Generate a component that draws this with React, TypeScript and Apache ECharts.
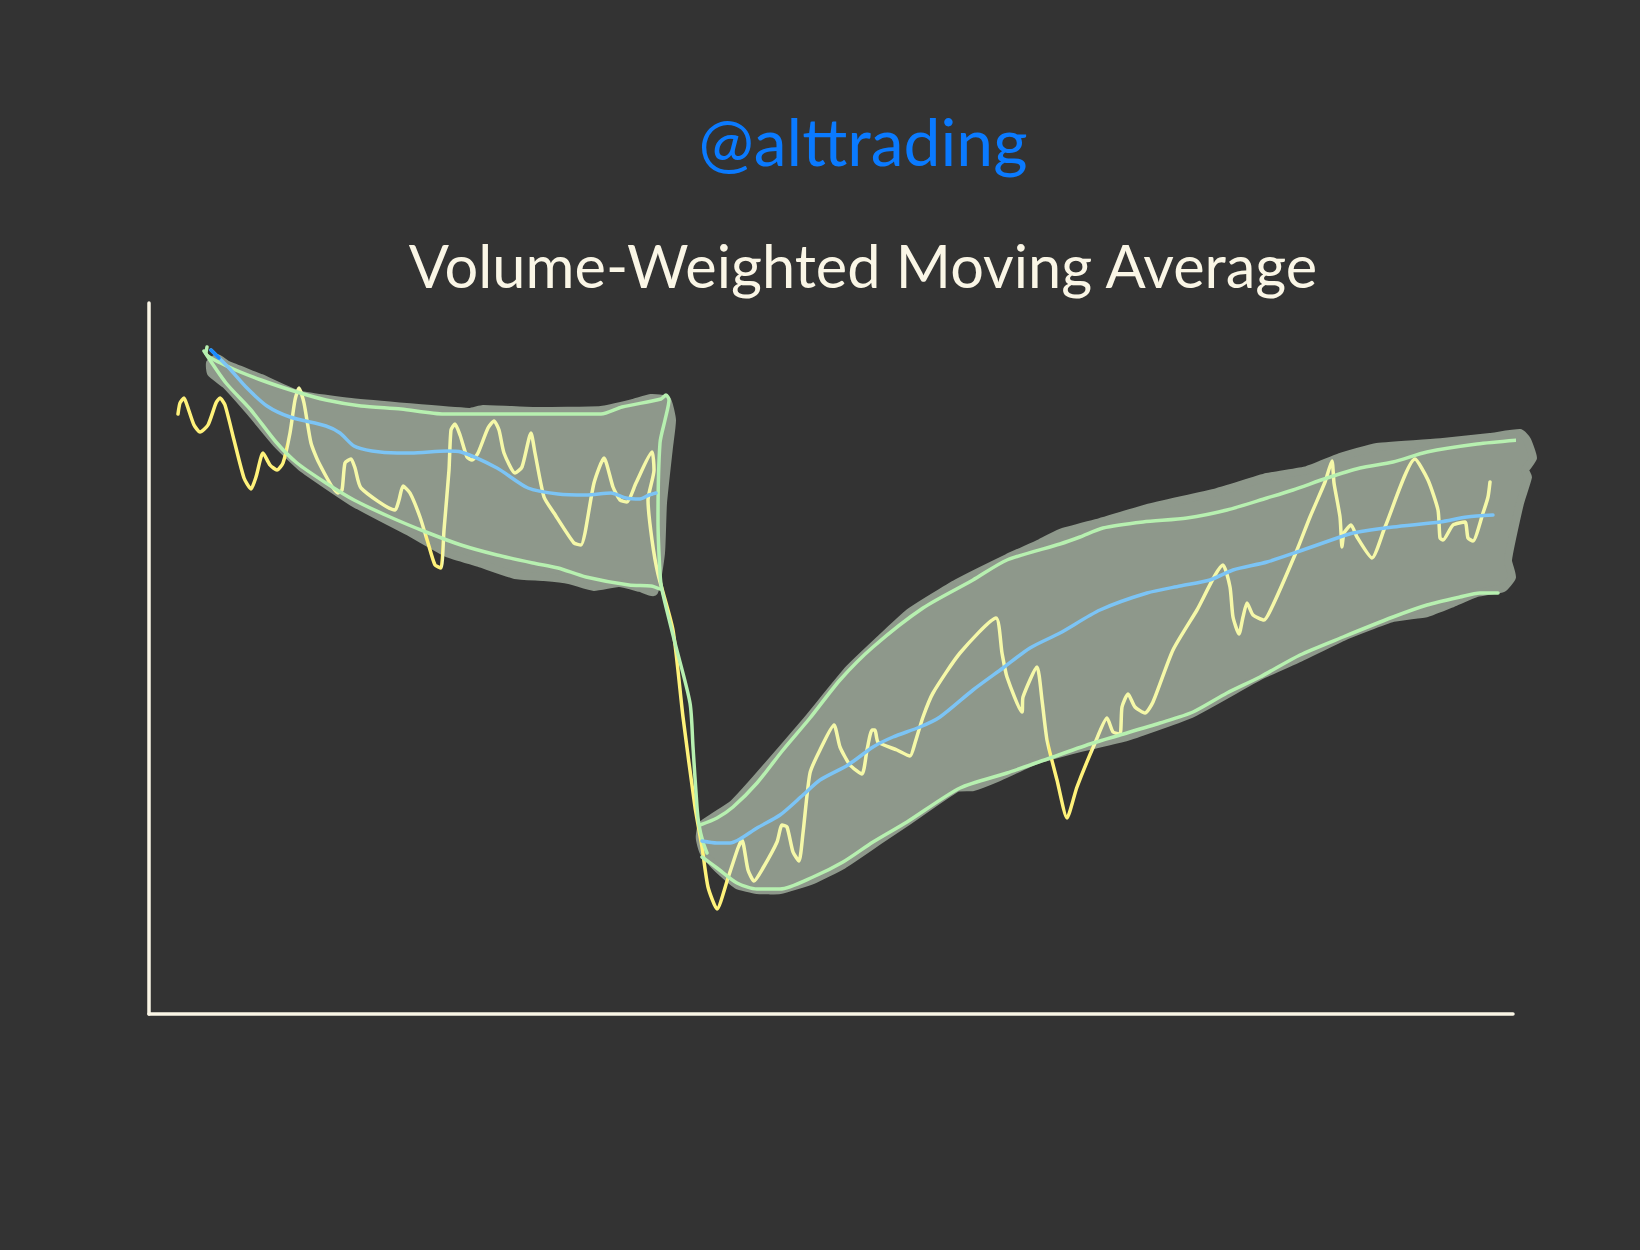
import React, { useEffect, useRef } from "react";
import * as echarts from "echarts";

const titleText = "@alttrading";
const subtitleText = "Volume-Weighted Moving Average";

const price: number[][] = [
  [29,600],[31,611],[35,616],[38,609],[45,589],[51,582],[59,589],[67,611],[71,616],[76,609],[85,574],[95,536],[102,525],[107,537],[114,561],[121,549],[128,544],[134,551],[141,581],[146,614],[150,626],[155,611],[162,571],[170,551],[189,521],[193,524],[196,551],[202,555],[206,546],[212,526],[246,504],[250,514],[254,528],[261,521],[271,497],[279,471],[286,449],[292,446],[295,484],[300,544],[302,584],[306,590],[311,579],[318,557],[323,554],[329,561],[339,586],[345,593],[350,584],[355,561],[366,541],[373,547],[382,581],[386,561],[395,517],[405,501],[425,471],[432,469],[436,481],[445,531],[455,556],[464,527],[471,514],[478,512],[487,531],[503,562],[505,544],[499,514],[503,474],[509,440],[524,384],[534,297],[546,207],[553,167],[559,127],[568,105],[579,136],[589,166],[593,174],[599,144],[605,133],[614,146],[628,172],[633,189],[638,187],[644,162],[650,153],[654,181],[661,241],[671,264],[685,289],[691,267],[701,249],[713,240],[718,264],[723,284],[726,284],[729,272],[748,264],[761,258],[766,271],[774,297],[784,321],[811,361],[847,396],[853,361],[858,337],[873,302],[874,317],[888,347],[893,314],[898,274],[908,234],[918,196],[928,227],[946,271],[958,296],[964,282],[971,280],[973,307],[979,320],[986,307],[996,301],[1004,312],[1024,364],[1048,404],[1074,449],[1081,427],[1084,397],[1090,380],[1094,397],[1098,411],[1104,399],[1115,394],[1124,409],[1148,464],[1161,497],[1176,532],[1183,553],[1185,531],[1191,497],[1193,467],[1195,481],[1202,489],[1208,477],[1223,456],[1236,487],[1266,555],[1279,534],[1289,504],[1291,476],[1294,474],[1304,489],[1316,492],[1319,476],[1324,473],[1334,501],[1339,517],[1341,532],
];

const vwmaStart: number[][] = [[62,664],[70,656]];
const vwmaBefore: number[][] = [
  [62,664],[80,646],[98,626],[118,608],[141,597],[177,588],[191,581],[205,568],[223,563],[248,561],[262,561],[298,563],[312,562],[348,546],[379,526],[409,520],[437,519],[462,521],[477,516],[491,515],[500,519],[507,521],
];
const vwmaAfter: number[][] = [
  [553,173],[568,171],[581,171],[591,175],[608,186],[631,199],[654,219],[671,234],[699,249],[724,267],[744,277],[771,287],[791,297],[824,324],[854,346],[881,366],[911,381],[951,404],[998,421],[1031,428],[1061,434],[1084,444],[1118,452],[1151,463],[1191,477],[1204,481],[1244,487],[1291,492],[1318,497],[1344,499],
];

const bandLowerBefore: number[][] = [
  [55,663],[77,631],[102,604],[127,572],[148,551],[177,531],[205,514],[241,497],[277,482],[312,469],[348,459],[384,451],[409,446],[437,437],[480,429],[502,428],[511,425],
];
const bandUpperBefore: number[][] = [
  [58,667],[57,661],[80,647],[112,634],[148,622],[177,614],[212,608],[252,605],[295,600],[348,600],[452,600],[473,607],[512,615],[517,619],[520,614],[516,594],[511,571],[509,494],[511,441],[513,424],[526,371],[541,311],[544,267],[548,207],[550,189],[554,172],[558,161],
];
const bandUpperAfter: number[][] = [
  [551,189],[568,196],[584,207],[608,231],[634,264],[661,296],[691,334],[724,367],[774,406],[824,434],[858,454],[911,470],[931,477],[954,486],[994,492],[1038,496],[1078,504],[1118,516],[1144,524],[1178,536],[1211,546],[1244,552],[1278,562],[1328,570],[1370,574],
];
const bandLowerAfter: number[][] = [
  [553,157],[568,146],[588,131],[608,125],[631,125],[664,137],[694,152],[724,172],[758,192],[811,226],[858,241],[901,256],[944,271],[971,279],[1011,291],[1044,302],[1078,321],[1111,337],[1151,359],[1194,377],[1244,397],[1278,409],[1311,417],[1331,421],[1349,421],
];

const fillBefore: number[][] = [
  [61,651],[68,656],[79,649],[112,636],[148,620],[202,612],[320,602],[334,605],[384,603],[452,604],[484,611],[502,616],[518,614],[523,594],[520,567],[514,511],[512,461],[505,422],[491,426],[470,431],[445,427],[420,434],[395,437],[366,439],[330,451],[298,461],[262,481],[205,511],[152,547],[127,571],[102,601],[77,629],[62,641],
];
const fillAfter: number[][] = [
  [551,180],[553,189],[584,210],[608,236],[658,294],[700,345],[741,384],[761,402],[808,431],[858,456],[891,471],[911,481],[951,492],[998,506],[1068,522],[1118,537],[1158,544],[1191,557],[1228,567],[1294,572],[1341,577],[1371,581],[1378,574],[1384,556],[1376,544],[1379,537],[1371,511],[1359,454],[1363,437],[1354,426],[1328,421],[1304,411],[1278,401],[1244,396],[1194,377],[1151,356],[1111,338],[1044,301],[978,277],[931,266],[888,254],[848,236],[824,227],[808,226],[758,192],[731,174],[694,149],[664,134],[631,124],[608,124],[588,129],[568,146],[555,161],[551,174],
];

const BG = "#333333";
const BAND = "#8e988b";
const GREEN = "#b7f0b0";
const BLUE = "#7cc4f5";
const DEEP_BLUE = "#1a8cff";
const YELLOW_OUT = "#fff27a";
const YELLOW_IN = "#f5f8a8";
const AXIS = "#faf6e6";
const INK = "#faf6e6";
const TAG = "#0a7aff";

function blob(points: number[][], name: string) {
  return {
    type: "custom",
    name,
    data: [0],
    z: 1,
    silent: true,
    renderItem: (_p: unknown, api: any) => ({
      type: "polygon",
      shape: { points: points.map((pt) => api.coord(pt)), smooth: 0.15 },
      style: { fill: BAND, stroke: BAND, lineWidth: 8, lineJoin: "round" },
    }),
  };
}

function line(name: string, data: number[][], color: string | undefined, z: number, smooth: number) {
  const lineStyle: any = { width: 3.5, cap: "round", join: "round" };
  if (color) lineStyle.color = color;
  return {
    type: "line",
    name,
    data,
    z,
    smooth,
    clip: false,
    symbol: "none",
    silent: true,
    lineStyle,
  };
}

export default function App() {
  const ref = useRef<HTMLDivElement>(null);
  useEffect(() => {
    const chart = echarts.init(ref.current!, null, { renderer: "svg" });
    const hidden = { axisTick: { show: false }, axisLabel: { show: false }, splitLine: { show: false } };
    const axisLine = { show: true, onZero: true, lineStyle: { color: AXIS, width: 3.5, cap: "round" } };
    chart.setOption({
      animation: false,
      backgroundColor: BG,
      title: [
        {
          text: titleText,
          left: 858,
          top: 102,
          textAlign: "center",
          textStyle: { color: TAG, fontFamily: "Lato", fontWeight: 400, fontSize: 66 },
        },
        {
          text: subtitleText,
          left: 858,
          top: 230,
          textAlign: "center",
          textStyle: { color: INK, fontFamily: "Lato", fontWeight: 400, fontSize: 59.5 },
        },
      ],
      grid: { left: 149, right: 127, top: 303, bottom: 236 },
      xAxis: { type: "value", min: 0, max: 1364, axisLine, ...hidden },
      yAxis: { type: "value", min: 0, max: 711, axisLine, ...hidden },
      visualMap: {
        show: false,
        seriesIndex: 2,
        dimension: 0,
        type: "piecewise",
        pieces: [
          { min: 0, max: 138, color: YELLOW_OUT },
          { min: 138, max: 276, color: YELLOW_IN },
          { min: 276, max: 293, color: YELLOW_OUT },
          { min: 293, max: 512, color: YELLOW_IN },
          { min: 512, max: 579, color: YELLOW_OUT },
          { min: 579, max: 899, color: YELLOW_IN },
          { min: 899, max: 943, color: YELLOW_OUT },
          { min: 943, max: 1364, color: YELLOW_IN },
        ],
      },
      series: [
        blob(fillBefore, "Band fill before"),
        blob(fillAfter, "Band fill after"),
        line("Price", price, undefined, 2, 0.2),
        line("Upper band before", bandUpperBefore, GREEN, 3, 0.25),
        line("Lower band before", bandLowerBefore, GREEN, 3, 0.25),
        line("Upper band after", bandUpperAfter, GREEN, 3, 0.25),
        line("Lower band after", bandLowerAfter, GREEN, 3, 0.25),
        line("VWMA before", vwmaBefore, BLUE, 4, 0.25),
        line("VWMA after", vwmaAfter, BLUE, 4, 0.25),
        line("VWMA start", vwmaStart, DEEP_BLUE, 5, 0),
      ],
    });
    return () => chart.dispose();
  }, []);
  return <div ref={ref} style={{ position: "fixed", left: 0, top: 0, width: 1640, height: 1250 }} />;
}
